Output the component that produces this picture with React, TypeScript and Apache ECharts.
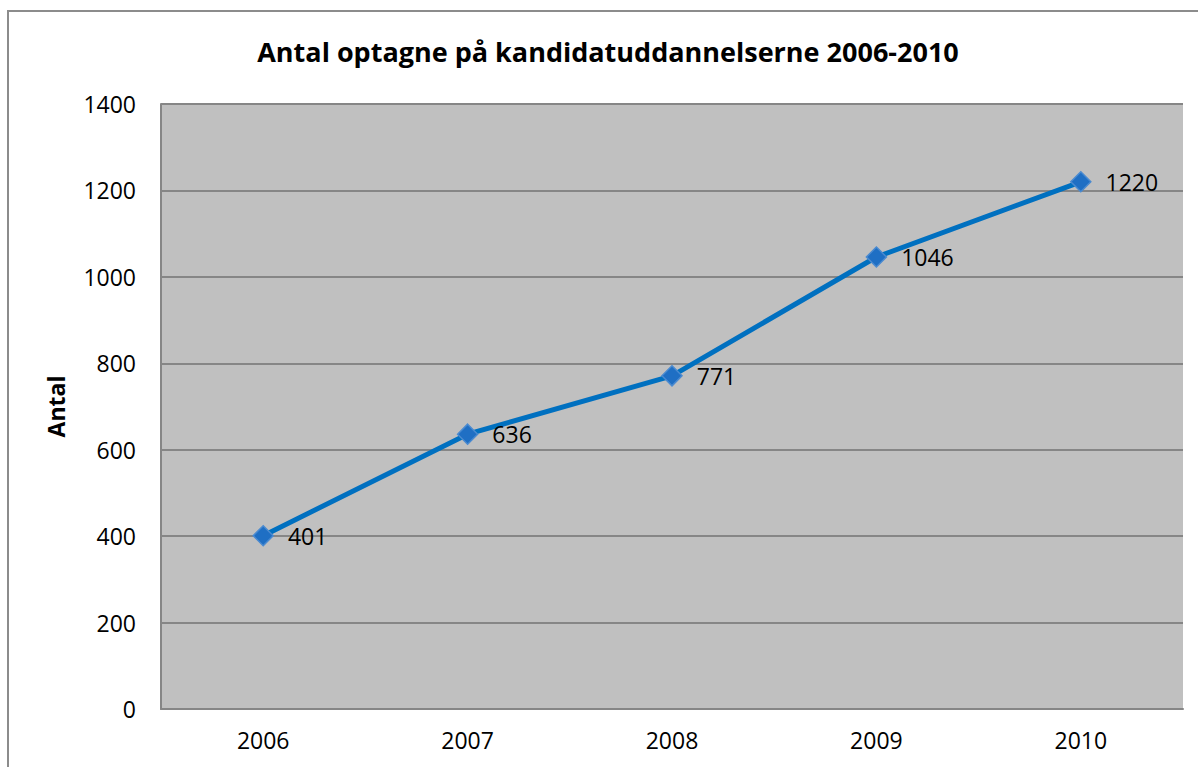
import React, { useEffect, useRef } from "react";
import * as echarts from "echarts";

const years = ["2006", "2007", "2008", "2009", "2010"];
const antal = [401, 636, 771, 1046, 1220];
const titleText = "Antal optagne på kandidatuddannelserne 2006-2010";
const yAxisName = "Antal";

export default function App() {
  const ref = useRef<HTMLDivElement>(null);
  useEffect(() => {
    const chart = echarts.init(ref.current!, null, { renderer: "svg" });
    const font = "'Open Sans', 'Liberation Sans', sans-serif";
    chart.setOption({
      animation: false,
      backgroundColor: "#ffffff",
      textStyle: { fontFamily: font },
      graphic: [
        {
          type: "rect",
          shape: { x: 8, y: 11, width: 1300, height: 900 },
          style: { fill: "none", stroke: "#8c8c8c", lineWidth: 2 },
          silent: true,
          z: -1,
        },
        {
          type: "text",
          x: 608,
          y: 51,
          style: {
            text: titleText,
            fontFamily: font,
            fontWeight: "bold",
            fontSize: 27,
            fill: "#000000",
            textAlign: "center",
            textVerticalAlign: "middle",
          },
        },
      ],
      grid: {
        left: 161,
        top: 104,
        right: 15,
        bottom: 58,
        show: true,
        backgroundColor: "#c0c0c0",
        borderWidth: 0,
      },
      xAxis: {
        type: "category",
        data: years,
        boundaryGap: true,
        axisLine: { show: true, lineStyle: { color: "#868686", width: 2 } },
        axisTick: { show: false },
        axisLabel: { color: "#000", fontSize: 23, margin: 19, fontFamily: font },
        splitLine: { show: false },
      },
      yAxis: {
        type: "value",
        min: 0,
        max: 1400,
        interval: 200,
        name: yAxisName,
        nameLocation: "middle",
        nameRotate: 90,
        nameGap: 94,
        nameTextStyle: { color: "#000", fontSize: 23, fontWeight: "bold", fontFamily: font },
        axisLine: { show: true, lineStyle: { color: "#868686", width: 2 } },
        axisTick: { show: false },
        axisLabel: {
          color: "#000",
          fontSize: 23,
          margin: 25,
          fontFamily: font,
          formatter: (v: number) => String(v),
        },
        splitLine: { show: true, lineStyle: { color: "#868686", width: 2 } },
      },
      series: [
        {
          type: "line",
          data: antal,
          lineStyle: { color: "#0070c0", width: 5 },
          symbol: "diamond",
          symbolSize: 20,
          itemStyle: { color: "#1f6fc4", borderColor: "#4a8ad0", borderWidth: 1.5 },
          label: {
            show: true,
            position: "right",
            distance: 14,
            color: "#000",
            fontSize: 23,
            fontFamily: font,
          },
        },
      ],
    });
    return () => chart.dispose();
  }, []);
  return (
    <div
      ref={ref}
      style={{ position: "absolute", left: 0, top: 0, width: 1198, height: 767 }}
    />
  );
}
